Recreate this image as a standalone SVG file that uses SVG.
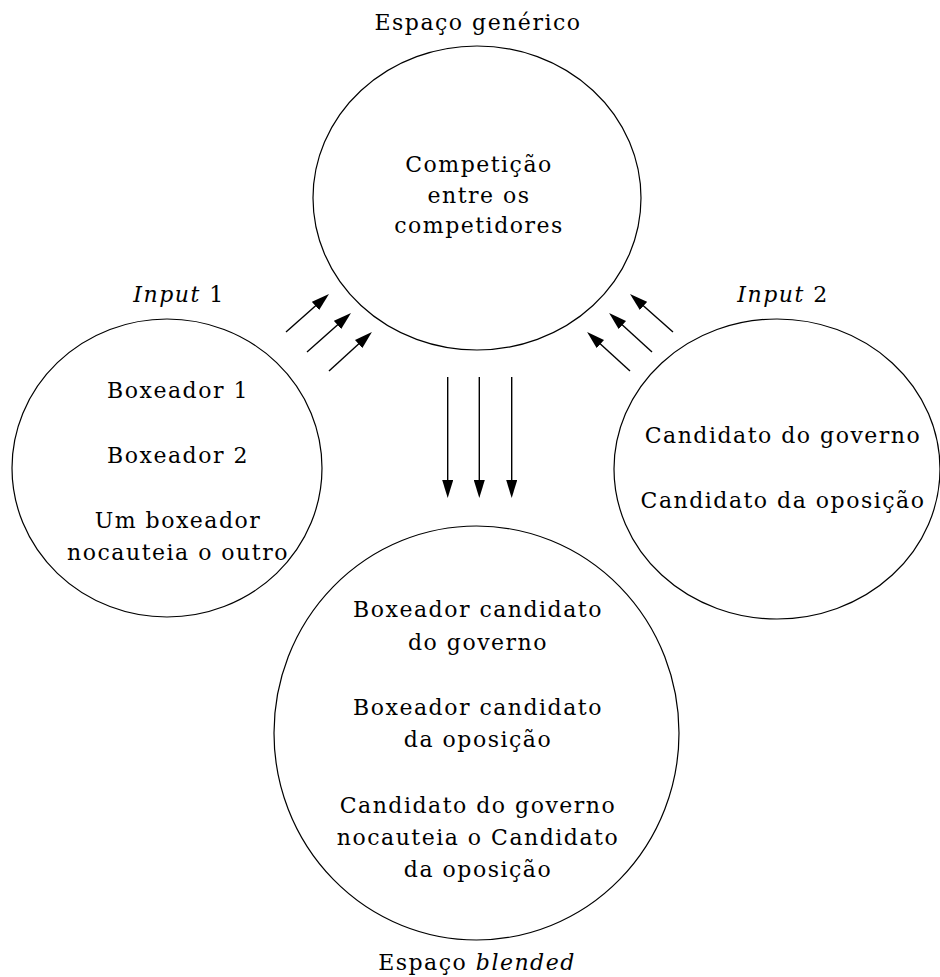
<svg xmlns="http://www.w3.org/2000/svg" width="940" height="977" viewBox="0 0 940 977">
<defs>
<style>
.c{fill:none;stroke:#000;stroke-width:1.2}
text{font-family:'DejaVu Serif',serif;font-size:22px;letter-spacing:1.5px;fill:#000;text-anchor:middle}
.i{font-style:italic}
.a{stroke:#000;stroke-width:1.4;fill:none;marker-end:url(#ah)}
</style>
<marker id="ah" markerUnits="userSpaceOnUse" markerWidth="18" markerHeight="11" refX="10" refY="5.5" orient="auto">
<path d="M0,0 L18,5.5 L0,11 z" fill="#000"/>
</marker>
</defs>
<rect width="940" height="977" fill="#fff"/>
<g id="generic">
<text x="478" y="30">Espaço genérico</text>
<ellipse class="c" cx="477" cy="198" rx="164" ry="152"/>
<text x="479" y="172">Competição</text>
<text x="479" y="203">entre os</text>
<text x="479" y="233">competidores</text>
</g>
<g id="input1">
<text x="179" y="302"><tspan class="i">Input</tspan> 1</text>
<ellipse class="c" cx="167" cy="468" rx="155" ry="149"/>
<text x="178" y="398">Boxeador 1</text>
<text x="178" y="463">Boxeador 2</text>
<text x="178" y="528">Um boxeador</text>
<text x="178" y="560">nocauteia o outro</text>
</g>
<g id="input2">
<text x="783" y="302"><tspan class="i">Input</tspan> 2</text>
<ellipse class="c" cx="777" cy="469" rx="163" ry="150"/>
<text x="783" y="443">Candidato do governo</text>
<text x="783" y="508">Candidato da oposição</text>
</g>
<g id="blended">
<ellipse class="c" cx="476.5" cy="733" rx="202.5" ry="207"/>
<text x="478" y="617">Boxeador candidato</text>
<text x="478" y="650">do governo</text>
<text x="478" y="715">Boxeador candidato</text>
<text x="478" y="747">da oposição</text>
<text x="478" y="813">Candidato do governo</text>
<text x="478" y="845">nocauteia o Candidato</text>
<text x="478" y="877">da oposição</text>
<text x="477" y="970">Espaço <tspan class="i">blended</tspan></text>
</g>
<g id="connectors">
<line class="a" x1="286" y1="332" x2="323" y2="299.3"/>
<line class="a" x1="307" y1="352" x2="345" y2="318.3"/>
<line class="a" x1="329" y1="371" x2="366" y2="337.3"/>
<line class="a" x1="673" y1="332" x2="636" y2="299.3"/>
<line class="a" x1="652" y1="352" x2="615" y2="318.3"/>
<line class="a" x1="630" y1="371" x2="593" y2="337.3"/>
<line class="a" x1="447.7" y1="377" x2="447.7" y2="490"/>
<line class="a" x1="479.3" y1="377" x2="479.3" y2="490"/>
<line class="a" x1="511.7" y1="377" x2="511.7" y2="490"/>
</g>
</svg>
